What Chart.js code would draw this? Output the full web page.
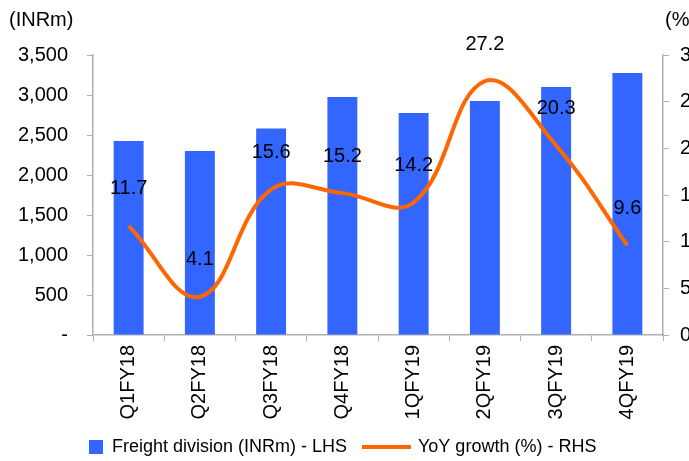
<!DOCTYPE html>
<html>
<head>
<meta charset="utf-8">
<script src="https://cdn.jsdelivr.net/npm/chart.js@4/dist/chart.umd.min.js"></script>
<style>
  html, body { margin: 0; padding: 0; background: #fff; overflow: hidden; }
  #wrap { width: 705px; height: 461px; position: relative; }
</style>
</head>
<body>
<div id="wrap"><canvas id="myChart"></canvas></div>
<script>
// data
const quarters = ['Q1FY18', 'Q2FY18', 'Q3FY18', 'Q4FY18', '1QFY19', '2QFY19', '3QFY19', '4QFY19'];
const freight = [2425, 2300, 2580, 2975, 2775, 2925, 3100, 3275];
const yoyGrowth = [11.7, 4.1, 15.6, 15.2, 14.2, 27.2, 20.3, 9.6];
const leftTicks = [0, 500, 1000, 1500, 2000, 2500, 3000, 3500];
const rightTicks = [0, 5, 10, 15, 20, 25, 30];

const FONT = "'Liberation Sans', Arial, sans-serif";
const BLUE = '#3366ff';
const ORANGE = '#ff6600';
const AXIS = '#b0b0b0';

// labels above the line points + the two unit titles + legend
const extras = {
    id: 'extras',
    afterDatasetsDraw(chart) {
        const ctx = chart.ctx;
        const meta = chart.getDatasetMeta(1);
        ctx.save();
        ctx.font = '20px ' + FONT;
        ctx.fillStyle = '#000';
        ctx.textAlign = 'center';
        ctx.textBaseline = 'middle';
        meta.data.forEach((pt, i) => {
            ctx.fillText(yoyGrowth[i].toFixed(1), pt.x, pt.y - 37);
        });
        ctx.restore();
    },
    afterDraw(chart) {
        const ctx = chart.ctx;
        const area = chart.chartArea;
        ctx.save();
        ctx.font = '20px ' + FONT;
        ctx.fillStyle = '#000';
        ctx.textBaseline = 'middle';
        ctx.textAlign = 'left';
        ctx.fillText('(INRm)', 9, 20);
        ctx.fillText('(%)', area.right + 2, 20);

        // legend
        const y = 447;
        ctx.font = '18px ' + FONT;
        ctx.fillStyle = BLUE;
        ctx.fillRect(89, y - 7, 14, 14);
        ctx.fillStyle = '#000';
        ctx.fillText('Freight division (INRm) - LHS', 112, y);
        ctx.strokeStyle = ORANGE;
        ctx.lineWidth = 4;
        ctx.beginPath();
        ctx.moveTo(362, y);
        ctx.lineTo(411, y);
        ctx.stroke();
        ctx.fillText('YoY growth (%) - RHS', 418, y);
        ctx.restore();
    }
};

const ctx = document.getElementById('myChart').getContext('2d');
const myChart = new Chart(ctx, {
    type: 'bar',
    data: {
        labels: quarters,
        datasets: [
            {
                type: 'bar',
                label: 'Freight division (INRm) - LHS',
                data: freight,
                backgroundColor: BLUE,
                barPercentage: 0.42,
                categoryPercentage: 1,
                yAxisID: 'y',
                order: 2
            },
            {
                type: 'line',
                label: 'YoY growth (%) - RHS',
                data: yoyGrowth,
                borderColor: ORANGE,
                borderWidth: 4,
                pointRadius: 0,
                tension: 0.4,
                yAxisID: 'y1',
                order: 1
            }
        ]
    },
    options: {
        responsive: true,
        maintainAspectRatio: false,
        animation: false,
        layout: { padding: { top: 55, bottom: 31, left: 0, right: 0 } },
        plugins: {
            legend: { display: false },
            tooltip: { enabled: false }
        },
        scales: {
            x: {
                grid: { drawOnChartArea: false, drawTicks: true, tickLength: 6, color: AXIS, offset: true },
                border: { color: AXIS, width: 1.5 },
                ticks: {
                    minRotation: 90, maxRotation: 90, padding: 4,
                    color: '#000', font: { family: FONT, size: 20 }
                },
                afterFit(scale) { scale.height = 95; }
            },
            y: {
                position: 'left',
                min: 0, max: 3500,
                afterBuildTicks(scale) { scale.ticks = leftTicks.map(v => ({ value: v })); },
                grid: { drawOnChartArea: false, drawTicks: true, tickLength: 6, color: AXIS },
                border: { color: AXIS, width: 1.5 },
                ticks: {
                    padding: 19, color: '#000', font: { family: FONT, size: 20 },
                    callback: v => v === 0 ? '-' : v.toLocaleString('en-US')
                },
                afterFit(scale) { scale.width = 93; }
            },
            y1: {
                position: 'right',
                min: 0, max: 30,
                afterBuildTicks(scale) { scale.ticks = rightTicks.map(v => ({ value: v })); },
                grid: { drawOnChartArea: false, drawTicks: true, tickLength: 6, color: AXIS },
                border: { color: AXIS, width: 1.5 },
                ticks: { padding: 11, color: '#000', font: { family: FONT, size: 20 } },
                afterFit(scale) { scale.width = 42; }
            }
        }
    },
    plugins: [extras]
});
</script>
</body>
</html>
